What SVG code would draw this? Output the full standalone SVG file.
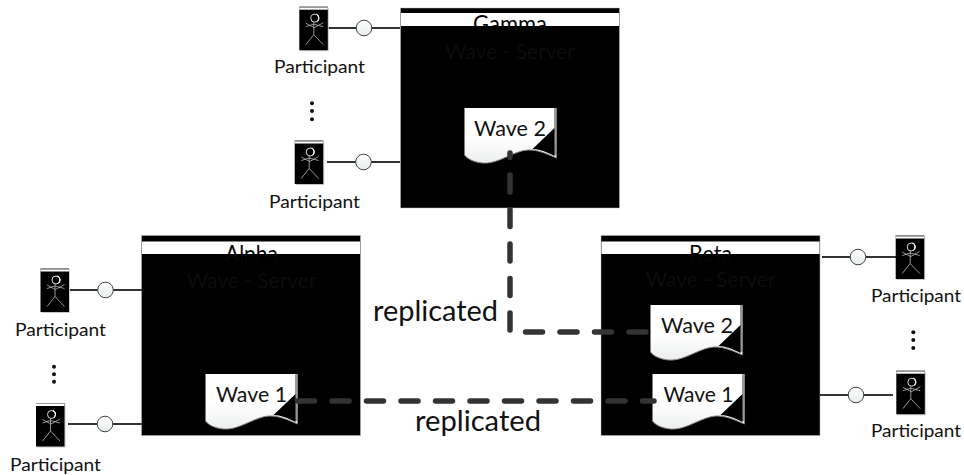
<svg xmlns="http://www.w3.org/2000/svg" xmlns:xlink="http://www.w3.org/1999/xlink" width="964" height="475" viewBox="0 0 964 475">
<style>
text{font-family:Lato,"Open Sans","Liberation Sans",sans-serif;fill:#111}
.p{font-size:18px}
.w{font-size:22px}
.r{font-size:29px}
.t{font-size:23px;fill:#050505}
.s{font-size:22px;fill:#0c0c0c}
.dash{fill:none;stroke:#333;stroke-width:5.500;stroke-linecap:round;stroke-dasharray:17 17.5}
.lp{fill:none;stroke:#333;stroke-width:2.200}
.c{fill:url(#cg);stroke:#444;stroke-width:1}
.dot{fill:#111}
</style>
<defs>
<linearGradient id="cg" x1="0" y1="0" x2="0" y2="1"><stop offset="0" stop-color="#fff"/><stop offset="1" stop-color="#e8ecec"/></linearGradient>
<linearGradient id="dg" x1="0" y1="0" x2="0" y2="1"><stop offset="0.55" stop-color="#fff"/><stop offset="1" stop-color="#eceeee"/></linearGradient>
<g id="actor">
<rect x="1" y="1" width="28.500" height="43.500" fill="#c8c8c8"/>
<rect width="28.500" height="43.500" fill="#000"/>
<rect width="28.500" height="1" fill="#999"/>
<rect y="1" width="28.500" height="2" fill="#fff"/>
<circle cx="15.500" cy="11.500" r="4" fill="none" stroke="#ddd" stroke-width="1"/>
<path d="M17 7.500a4 4 0 0 1 1 7a4.500 4.500 0 0 0-1-7z" fill="#eee" stroke="#eee"/>
<path d="M14.500 15.500V28M6.500 16.500L15 21L24 16M6.500 20L14.500 17.500L24 20M14.500 28L6.500 38M14.500 28L24 38" fill="none" stroke="#bbb" stroke-width="0.800"/>
</g>
<g id="doc">
<path d="M0 0H92V50C78 44 68 39 54 44C40 49 30 56 18 55C9 54 3 51 0 47Z" fill="url(#dg)"/>
<path d="M0 47C3 51 9 54 18 55C30 56 40 49 54 44C68 39 78 44 92 50" fill="none" stroke="#888" stroke-width="1"/>
<path d="M90 20L68 41C75 41 82 44 90 48Z" fill="#000"/>
<path d="M90.500 0V47" stroke="#000" stroke-width="0.800"/>
</g>
</defs>

<g id="server-gamma">
<rect x="400.500" y="8" width="219" height="200" fill="#000" stroke="#bbb" stroke-width="0.500"/>
<rect x="401" y="13" width="218" height="13" fill="#fff"/>
<text class="t" x="510" y="32" text-anchor="middle" textLength="74" lengthAdjust="spacingAndGlyphs">Gamma</text>
<text class="s" x="510" y="59" text-anchor="middle" textLength="130" lengthAdjust="spacingAndGlyphs">Wave - Server</text>
</g>
<g id="server-alpha">
<rect x="141.500" y="235.500" width="219" height="200" fill="#000" stroke="#bbb" stroke-width="0.500"/>
<rect x="142" y="241.500" width="218" height="12.500" fill="#fff"/>
<text class="t" x="251.500" y="262" text-anchor="middle" textLength="53" lengthAdjust="spacingAndGlyphs">Alpha</text>
<text class="s" x="251.500" y="288" text-anchor="middle" textLength="130" lengthAdjust="spacingAndGlyphs">Wave - Server</text>
</g>
<g id="server-beta">
<rect x="601" y="235.500" width="219" height="200" fill="#000" stroke="#bbb" stroke-width="0.500"/>
<rect x="601.500" y="241.500" width="218" height="12.500" fill="#fff"/>
<text class="t" x="710.500" y="262" text-anchor="middle" textLength="43" lengthAdjust="spacingAndGlyphs">Beta</text>
<text class="s" x="710.500" y="287" text-anchor="middle" textLength="130" lengthAdjust="spacingAndGlyphs">Wave - Server</text>
</g>

<g id="wave-gamma-2"><use href="#doc" x="464.500" y="108"/><text class="w" x="510" y="136" text-anchor="middle" textLength="72" lengthAdjust="spacingAndGlyphs">Wave 2</text></g>
<g id="wave-alpha-1"><use href="#doc" x="205.500" y="374"/><text class="w" x="251.500" y="402" text-anchor="middle" textLength="71" lengthAdjust="spacingAndGlyphs">Wave 1</text></g>
<g id="wave-beta-2"><use href="#doc" x="650.500" y="305"/><text class="w" x="697" y="333" text-anchor="middle" textLength="72" lengthAdjust="spacingAndGlyphs">Wave 2</text></g>
<g id="wave-beta-1"><use href="#doc" x="652.500" y="374"/><text class="w" x="698.500" y="402" text-anchor="middle" textLength="70" lengthAdjust="spacingAndGlyphs">Wave 1</text></g>

<g id="connectors">
<path class="lp" d="M328 28H400M327 162H400M68 290H142M68 424H142M822 257H896M820 395H893"/>
<path class="dash" d="M510 153V332H649" stroke-dashoffset="12.500"/>
<path class="dash" d="M297.500 401H654"/>
<circle class="c" cx="364" cy="28" r="7.800"/>
<circle class="c" cx="363.500" cy="162" r="7.800"/>
<circle class="c" cx="105.500" cy="290" r="7.800"/>
<circle class="c" cx="105" cy="424" r="7.800"/>
<circle class="c" cx="858" cy="257" r="7.800"/>
<circle class="c" cx="856" cy="395" r="7.800"/>
</g>

<g id="participant-gamma-1"><use href="#actor" x="299.300" y="6.700"/><text class="p" x="319.500" y="73" text-anchor="middle" textLength="91" lengthAdjust="spacingAndGlyphs">Participant</text></g>
<g id="participant-gamma-2"><use href="#actor" x="294.700" y="140.500"/><text class="p" x="314.500" y="208" text-anchor="middle" textLength="91" lengthAdjust="spacingAndGlyphs">Participant</text></g>
<g id="participant-alpha-1"><use href="#actor" x="40.500" y="268.500"/><text class="p" x="60.500" y="336" text-anchor="middle" textLength="91" lengthAdjust="spacingAndGlyphs">Participant</text></g>
<g id="participant-alpha-2"><use href="#actor" x="36" y="403"/><text class="p" x="55.500" y="471" text-anchor="middle" textLength="91" lengthAdjust="spacingAndGlyphs">Participant</text></g>
<g id="participant-beta-1"><use href="#actor" x="895.700" y="235.500"/><text class="p" x="916" y="302" text-anchor="middle" textLength="90" lengthAdjust="spacingAndGlyphs">Participant</text></g>
<g id="participant-beta-2"><use href="#actor" x="896.300" y="370.700"/><text class="p" x="916" y="437" text-anchor="middle" textLength="90" lengthAdjust="spacingAndGlyphs">Participant</text></g>

<g id="ellipses">
<circle class="dot" cx="312" cy="103.300" r="2"/><circle class="dot" cx="312" cy="111" r="2"/><circle class="dot" cx="312" cy="119.300" r="2"/>
<circle class="dot" cx="54" cy="366.700" r="2"/><circle class="dot" cx="54" cy="374.300" r="2"/><circle class="dot" cx="54" cy="381.700" r="2"/>
<circle class="dot" cx="913.300" cy="332.300" r="2"/><circle class="dot" cx="913.300" cy="340" r="2"/><circle class="dot" cx="913.300" cy="348" r="2"/>
</g>

<g id="labels">
<text class="r" x="373" y="321" textLength="125" lengthAdjust="spacingAndGlyphs">replicated</text>
<text class="r" x="415" y="431" textLength="126" lengthAdjust="spacingAndGlyphs">replicated</text>
</g>
</svg>
